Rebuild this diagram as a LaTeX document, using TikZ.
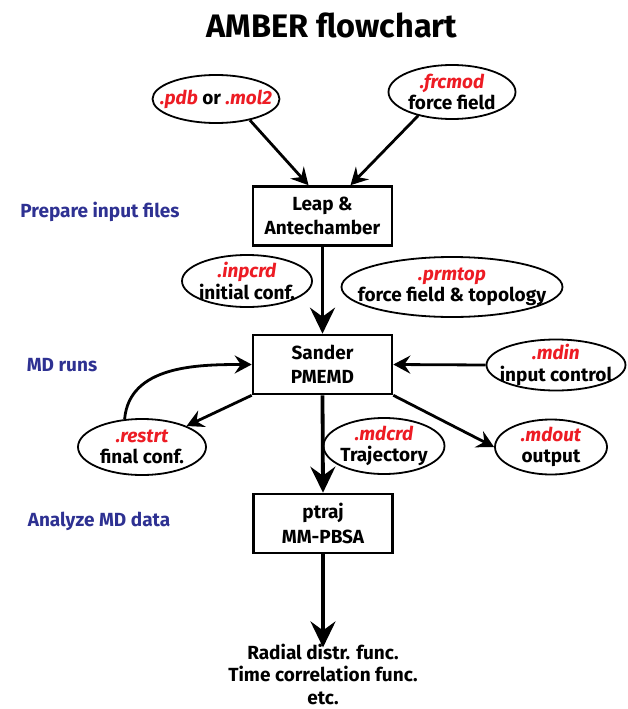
\documentclass[tikz,border=0pt]{standalone}
\usepackage{fontspec}
\setmainfont{Fira Sans}
\usetikzlibrary{shapes.geometric,arrows.meta}
\definecolor{ared}{HTML}{ED1C24}
\definecolor{ablue}{HTML}{2E3192}
\newcommand{\ext}[1]{\textcolor{ared}{\itshape #1}}
\begin{document}
\begin{tikzpicture}[x=1pt,y=-1pt,
  every node/.style={font=\bfseries\fontsize{19}{21.5}\selectfont, inner sep=0pt, align=center},
  file/.style={ellipse, draw, line width=1.8pt, fill=white},
  prog/.style={rectangle, draw, line width=2.6pt, minimum width=139pt, minimum height=59pt, font=\bfseries\fontsize{19}{24.5}\selectfont},
  stage/.style={text=ablue},
  arr/.style={line width=2.8pt, -{Stealth[length=17pt,width=18pt,inset=6pt]}},
  bigarr/.style={line width=3.8pt, -{Stealth[length=26pt,width=25pt,inset=9pt]}},
]
\useasboundingbox (0,0) rectangle (627,709);

% title
\node (title) at (332,25) {\fontsize{32.5}{36}\selectfont AMBER flowchart};

% stage labels
\node[stage] (s1) at (100,212) {Prepare input files};
\node[stage] (s2) at (62,365) {MD runs};
\node[stage] (s3) at (99,521) {Analyze MD data};

% input files (ellipse outlines)
\node[file, minimum width=127pt, minimum height=48pt] (pdb) at (216,99) {};
\node[file, minimum width=127pt, minimum height=54pt] (frcmod) at (452,92) {};
\node[file, minimum width=130pt, minimum height=52pt] (inpcrd) at (247,281) {};
\node[file, minimum width=221pt, minimum height=60pt] (prmtop) at (452,287) {};
\node[file, minimum width=139pt, minimum height=51pt] (mdin) at (556,365) {};
\node[file, minimum width=128pt, minimum height=56pt] (restrt) at (142,447) {};
\node[file, minimum width=121pt, minimum height=56pt] (mdcrd) at (384,446) {};
\node[file, minimum width=112pt, minimum height=55pt] (mdout) at (551,447) {};

% file texts
\node (pdbt) at (pdb) {\ext{.pdb} or \ext{.mol2}};
\node (frcmodt) at (frcmod) {\ext{.frcmod}\\force field};
\node (inpcrdt) at (inpcrd) {\ext{.inpcrd}\\initial conf.};
\node (prmtopt) at (prmtop) {\ext{.prmtop}\\force field \& topology};
\node (mdint) at (mdin) {\ext{.mdin}\\input control};
\node (restrtt) at (restrt) {\ext{.restrt}\\final conf.};
\node (mdcrdt) at (mdcrd) {\ext{.mdcrd}\\Trajectory};
\node (mdoutt) at (mdout) {\ext{.mdout}\\output};

% programs
\node[prog] (leap) at (322.5,216) {Leap \&\\Antechamber};
\node[prog] (sander) at (322.5,364.5) {Sander\\PMEMD};
\node[prog] (ptraj) at (323,523.5) {ptraj\\MM-PBSA};

% results
\node[font=\bfseries\fontsize{19}{22.5}\selectfont] (result) at (323,674) {Radial distr. func.\\Time correlation func.\\etc.};

% connectors
\coordinate (leapin1) at ([xshift=-14pt]leap.north);
\coordinate (leapin2) at ([xshift=28pt]leap.north);
\draw[arr] (pdb.-32) -- (leapin1);
\draw[arr] (frcmod.-145) -- (leapin2);
\draw[bigarr] (leap.south) -- (sander.north);
\draw[arr] (mdin.west) -- (sander.east);
\draw[arr] (sander.south west) -- (restrt);
\draw[arr] (restrt.122) to[out=85,in=180] (sander.west);
\draw[arr] (sander.south east) -- (mdout.west);
\draw[bigarr] (sander.south) -- (ptraj.north);
\draw[bigarr] (ptraj.south) -- ([yshift=-4pt]result.north);
\end{tikzpicture}
\end{document}
